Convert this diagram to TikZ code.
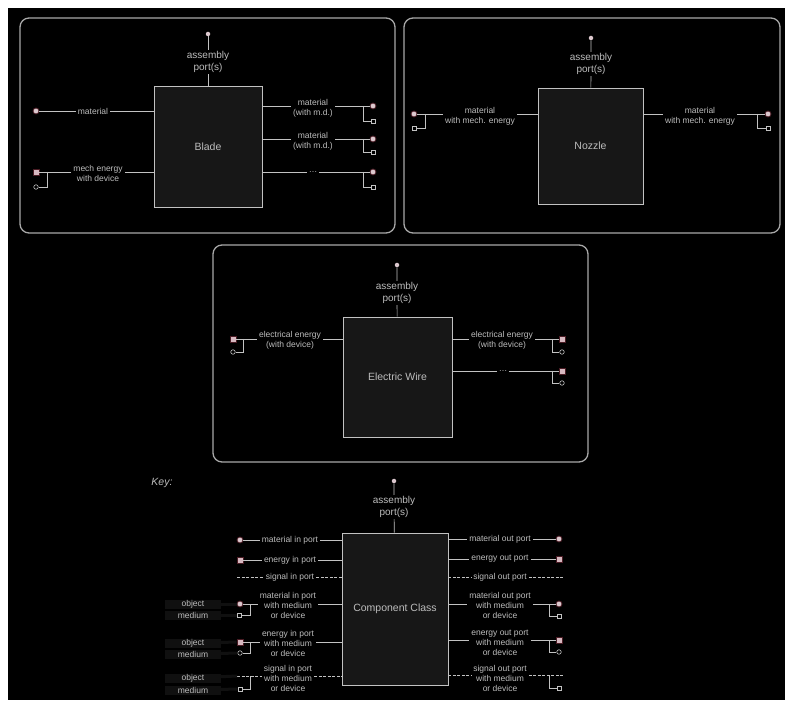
\documentclass[tikz,border=0pt]{standalone}
\usepackage{fontspec}
\setmainfont{Liberation Sans}
\definecolor{linec}{HTML}{C2C2C2}
\definecolor{framec}{HTML}{A8A8A8}
\definecolor{boxc}{HTML}{171717}
\definecolor{txtc}{HTML}{BDBDBD}
\definecolor{dotc}{HTML}{DCC8CE}
\definecolor{sqc}{HTML}{D6B8C0}
\definecolor{glowc}{HTML}{4A1C24}
\definecolor{keyfill}{HTML}{101010}
\newcommand{\smallfont}{\fontsize{8.5}{10}\selectfont}
\newcommand{\asmfont}{\fontsize{10}{11.5}\selectfont}
\newcommand{\titlefont}{\fontsize{10.5}{12}\selectfont}

\begin{document}
\begin{tikzpicture}[x=1pt,y=-1pt,
  frame/.style={draw=framec,line width=1.3pt,rounded corners=9pt},
  comp/.style={draw=linec,fill=boxc,line width=0.8pt,font=\titlefont,text=txtc,inner sep=0pt},
  lab/.style={text=txtc,font=\smallfont,align=center,inner sep=2pt},
  asm/.style={text=txtc,font=\asmfont,align=center,inner sep=1.5pt},
  keylab/.style={lab,fill=keyfill,minimum width=56pt,minimum height=9pt,inner sep=0.5pt},
  matdot/.style={circle,fill=dotc,draw=glowc,line width=0.8pt,inner sep=0pt,minimum size=6pt},
  ensq/.style={rectangle,fill=sqc,draw=glowc,line width=0.8pt,inner sep=0pt,minimum size=6pt},
  asmdot/.style={circle,fill=dotc,inner sep=0pt,minimum size=4.5pt},
  medsq/.style={rectangle,draw=linec,line width=0.6pt,inner sep=0pt,minimum size=4pt},
  devcirc/.style={circle,draw=linec,line width=0.6pt,inner sep=0pt,minimum size=4.5pt},
  conn/.style={draw=linec,line width=0.7pt},
  sigconn/.style={conn,dash pattern=on 3pt off 1.5pt},
  keylink/.style={draw=keyfill,line width=3pt}]
\useasboundingbox (0,0) rectangle (793,708);
\fill[white] (0,0) rectangle (793,708);
\fill[black] (8,8) rectangle (785,700);

% Blade
\draw[frame] (20,18) rectangle (395,233);
\node[comp,minimum width=108pt,minimum height=121pt] (blade) at (208,146.5) {Blade};
\node[asmdot] (bAd) at (208,34) {};
\node[asm] (bAl) at (208,62) {assembly\\port(s)};
\draw[conn] (blade) -- (bAl) -- (bAd);

\node[matdot] (bi1) at (36,111) {};
\node[lab] (bl1) at (93,111) {material};
\draw[conn] (bi1) -- (bl1) -- (blade.west |- bi1);

\node[ensq] (bi2) at (36,172) {};
\node[lab] (bl2) at (98,173) {mech energy\\with device};
\node[devcirc] (bm2) at (36,187) {};
\coordinate (bk2) at (47,172);
\draw[conn] (bi2) -- (bl2.west |- bi2) (bl2.east |- bi2) -- (blade.west |- bi2);
\draw[conn] (bk2) |- (bm2);

\node[lab] (br1) at (313,108) {material\\(with m.d.)};
\node[matdot] (bo1) at (373,106) {};
\node[medsq] (bm3) at (373,121) {};
\coordinate (bk3) at (363,106);
\draw[conn] (blade.east |- bo1) -- (br1.west |- bo1) (br1.east |- bo1) -- (bo1);
\draw[conn] (bk3) |- (bm3);

\node[lab] (br2) at (313,141) {material\\(with m.d.)};
\node[matdot] (bo2) at (373,139) {};
\node[medsq] (bm4) at (373,152) {};
\coordinate (bk4) at (363,139);
\draw[conn] (blade.east |- bo2) -- (br2.west |- bo2) (br2.east |- bo2) -- (bo2);
\draw[conn] (bk4) |- (bm4);

\node[lab] (br3) at (313,172) {\ldots};
\node[matdot] (bo3) at (373,172) {};
\node[medsq] (bm5) at (373,187) {};
\coordinate (bk5) at (363,172);
\draw[conn] (blade.east |- bo3) -- (br3) -- (bo3);
\draw[conn] (bk5) |- (bm5);

% Nozzle
\draw[frame] (404,18) rectangle (780,233);
\node[comp,minimum width=105pt,minimum height=116pt] (nozzle) at (590.5,146) {Nozzle};
\node[asmdot] (nAd) at (591,38) {};
\node[asm] (nAl) at (591,64) {assembly\\port(s)};
\draw[conn] (nozzle) -- (nAl) -- (nAd);

\node[matdot] (ni1) at (414,114) {};
\node[lab] (nl1) at (480,116) {material\\with mech. energy};
\node[medsq] (nm1) at (414,128) {};
\coordinate (nk1) at (425,114);
\draw[conn] (ni1) -- (nl1.west |- ni1) (nl1.east |- ni1) -- (nozzle.west |- ni1);
\draw[conn] (nk1) |- (nm1);

\node[lab] (nr1) at (700,116) {material\\with mech. energy};
\node[matdot] (no1) at (768,114) {};
\node[medsq] (nm2) at (768,128) {};
\coordinate (nk2) at (757,114);
\draw[conn] (nozzle.east |- no1) -- (nr1.west |- no1) (nr1.east |- no1) -- (no1);
\draw[conn] (nk2) |- (nm2);

% Electric Wire
\draw[frame] (213,245) rectangle (588,462);
\node[comp,minimum width=109pt,minimum height=120pt] (wire) at (397.5,377) {Electric Wire};
\node[asmdot] (eAd) at (397,265) {};
\node[asm] (eAl) at (397,293) {assembly\\port(s)};
\draw[conn] (wire) -- (eAl) -- (eAd);

\node[ensq] (ei1) at (233,339) {};
\node[lab] (el1) at (290,340) {electrical energy\\(with device)};
\node[devcirc] (em1) at (233,352) {};
\coordinate (ek1) at (243,339);
\draw[conn] (ei1) -- (el1.west |- ei1) (el1.east |- ei1) -- (wire.west |- ei1);
\draw[conn] (ek1) |- (em1);

\node[lab] (er1) at (502,340) {electrical energy\\(with device)};
\node[ensq] (eo1) at (562,339) {};
\node[devcirc] (em2) at (562,352) {};
\coordinate (ek2) at (552,339);
\draw[conn] (wire.east |- eo1) -- (er1.west |- eo1) (er1.east |- eo1) -- (eo1);
\draw[conn] (ek2) |- (em2);

\node[lab] (er2) at (503,371) {\ldots};
\node[ensq] (eo2) at (562,371) {};
\node[devcirc] (em3) at (562,383) {};
\coordinate (ek3) at (552,371);
\draw[conn] (wire.east |- eo2) -- (er2) -- (eo2);
\draw[conn] (ek3) |- (em3);

% Key
\node[text=txtc,font=\titlefont\itshape] (keyt) at (162,483) {Key:};
\node[comp,minimum width=106pt,minimum height=152pt] (cls) at (395,609) {Component Class};
\node[asmdot] (kAd) at (394,481) {};
\node[asm] (kAl) at (394,507) {assembly\\port(s)};
\draw[conn] (cls) -- (kAl) -- (kAd);

% key, in ports
\node[matdot] (kd1) at (240,540) {};
\node[lab] (kl1) at (290,540) {material in port};
\draw[conn] (kd1) -- (kl1) -- (cls.west |- kd1);

\node[ensq] (kd2) at (240,560) {};
\node[lab] (kl2) at (290,560) {energy in port};
\draw[conn] (kd2) -- (kl2) -- (cls.west |- kd2);

\coordinate (kd3) at (237,577);
\node[lab] (kl3) at (290,577) {signal in port};
\draw[sigconn] (kd3) -- (kl3) -- (cls.west |- kd3);

\node[matdot] (kd4) at (240,604) {};
\node[lab] (kl4) at (288,605) {material in port\\with medium\\or device};
\node[medsq] (km4) at (239,615) {};
\coordinate (kk4) at (250,604);
\draw[conn] (kd4) -- (kl4.west |- kd4) (kl4.east |- kd4) -- (cls.west |- kd4);
\draw[conn] (kk4) |- (km4);

\node[ensq] (kd5) at (240,642) {};
\node[lab] (kl5) at (288,643) {energy in port\\with medium\\or device};
\node[devcirc] (km5) at (240,653) {};
\coordinate (kk5) at (250,642);
\draw[conn] (kd5) -- (kl5.west |- kd5) (kl5.east |- kd5) -- (cls.west |- kd5);
\draw[conn] (kk5) |- (km5);

\coordinate (kd6) at (237,676);
\node[lab] (kl6) at (288,678) {signal in port\\with medium\\or device};
\node[medsq] (km6) at (240,689) {};
\coordinate (kk6) at (250,676);
\draw[sigconn] (kd6) -- (kl6.west |- kd6) (kl6.east |- kd6) -- (cls.west |- kd6);
\draw[conn] (kk6) |- (km6);

% key, object and medium
\node[keylab] (ko4) at (193,604) {object};
\node[keylab] (kn4) at (193,615) {medium};
\node[keylab] (ko5) at (193,643) {object};
\node[keylab] (kn5) at (193,654) {medium};
\node[keylab] (ko6) at (193,678) {object};
\node[keylab] (kn6) at (193,690) {medium};
\draw[keylink] (ko4) -- (kd4) (kn4) -- (km4);
\draw[keylink] (ko5) -- (kd5) (kn5) -- (km5);
\draw[keylink] (ko6) -- (kd6) (kn6) -- (km6);

% key, out ports
\node[lab] (kr1) at (500,539) {material out port};
\node[matdot] (ko1) at (559,539) {};
\draw[conn] (cls.east |- ko1) -- (kr1) -- (ko1);

\node[lab] (kr2) at (500,559) {energy out port};
\node[ensq] (ko2) at (559,559) {};
\draw[conn] (cls.east |- ko2) -- (kr2) -- (ko2);

\node[lab] (kr3) at (500,577) {signal out port};
\coordinate (ko3) at (563,577);
\draw[sigconn] (cls.east |- ko3) -- (kr3) -- (ko3);

\node[lab] (kr4) at (500,605) {material out port\\with medium\\or device};
\node[matdot] (kq4) at (559,604) {};
\node[medsq] (kp4) at (559,616) {};
\coordinate (kj4) at (549,604);
\draw[conn] (cls.east |- kq4) -- (kr4.west |- kq4) (kr4.east |- kq4) -- (kq4);
\draw[conn] (kj4) |- (kp4);

\node[lab] (kr5) at (500,643) {energy out port\\with medium\\or device};
\node[ensq] (kq5) at (559,640) {};
\node[devcirc] (kp5) at (559,652) {};
\coordinate (kj5) at (549,640);
\draw[conn] (cls.east |- kq5) -- (kr5.west |- kq5) (kr5.east |- kq5) -- (kq5);
\draw[conn] (kj5) |- (kp5);

\node[lab] (kr6) at (500,678) {signal out port\\with medium\\or device};
\coordinate (kq6) at (563,675);
\node[medsq] (kp6) at (559,688) {};
\coordinate (kj6) at (549,675);
\draw[sigconn] (cls.east |- kq6) -- (kr6.west |- kq6) (kr6.east |- kq6) -- (kq6);
\draw[conn] (kj6) |- (kp6);
\end{tikzpicture}
\end{document}
